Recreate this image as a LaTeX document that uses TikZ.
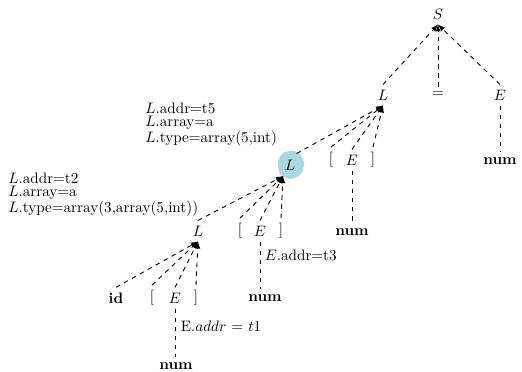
\documentclass[tikz,border=0pt]{standalone}
\usetikzlibrary{arrows}
\definecolor{blobblue}{RGB}{170,215,228}

\begin{document}
\begin{tikzpicture}[x=.66pt,y=-.66pt,
  kid/.style={dashed,line width=.6pt,-latex},
  link/.style={dashed,line width=.6pt},
  attr/.style={align=left,inner sep=0pt,font=\fontsize{10}{8.4}\selectfont}]
  \useasboundingbox (0,0) rectangle (522,372);

  % highlighted node
  \fill[blobblue] plot[smooth cycle] coordinates
    {(278,161) (285,152) (297,152) (304,162) (301,174) (290,179) (280,174)};

  % nodes
  \node (S)   at (438,14)  {$S$};
  \node (L1)  at (383,95)  {$L$};
  \node (eq)  at (438,95)  {$=$};
  \node (E1)  at (500,95)  {$E$};
  \node (n1)  at (500,161) {\textbf{num}};

  \node[circle,minimum size=17pt,inner sep=0pt] (L2) at (290,165) {$L$};
  \node (lb2) at (331,160) {$[$};
  \node (E2)  at (352,160) {$E$};
  \node (rb2) at (373,160) {$]$};
  \node (n2)  at (352,232) {\textbf{num}};

  \node (L3)  at (198,231) {$L$};
  \node (lb3) at (240,231) {$[$};
  \node (E3)  at (260,231) {$E$};
  \node (rb3) at (281,231) {$]$};
  \node (n3)  at (265,298) {\textbf{num}};

  \node (id)  at (116,298) {\textbf{id}};
  \node (lb4) at (152,298) {$[$};
  \node (E4)  at (175,298) {$E$};
  \node (rb4) at (196,298) {$]$};
  \node (n4)  at (176,366) {\textbf{num}};

  % attributes
  \node[attr,anchor=north west] (a2) at (145,103)
    {$L$.addr=t5\\$L$.array=a\\$L$.type=array(5,int)};
  \node[attr,anchor=north west] (a3) at (8,173)
    {$L$.addr=t2\\$L$.array=a\\$L$.type=array(3,array(5,int))};
  \node[anchor=west,inner sep=1pt] (t3) at (263,255) {$E$.addr=t3};
  \node[anchor=west,inner sep=1pt] (t1) at (179,326) {E.$addr$ = $t1$};

  % edges
  \foreach \c in {L1,eq,E1}
    \draw[kid] (\c.north) -- (S.south);
  \foreach \c in {lb2,E2,rb2}
    \draw[kid] (\c.north) -- (L1.south);
  \draw[kid] (L2.60) -- (L1.south);
  \foreach \c in {L3,lb3,E3,rb3}
    \draw[kid] (\c.north) -- (L2.238);
  \foreach \c in {id,lb4,E4,rb4}
    \draw[kid] (\c.north) -- (L3.south);

  \draw[link] (E1) -- (n1);
  \draw[link] (E2) -- (n2);
  \draw[link] (E3) -- (E3 |- n3.north);
  \draw[link] (E4) -- (E4 |- n4.north);
\end{tikzpicture}
\end{document}
